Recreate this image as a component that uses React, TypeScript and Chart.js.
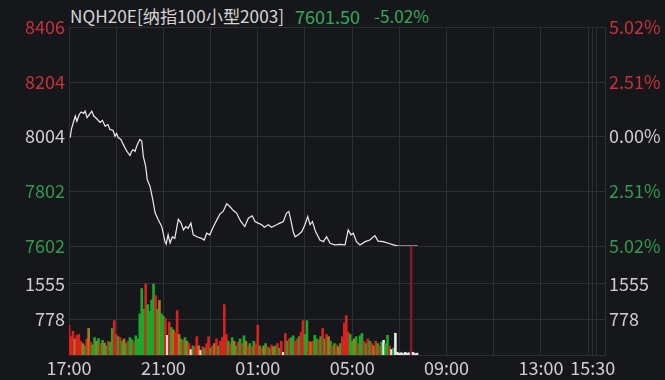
import React, { useEffect, useRef } from 'react';
import { Chart, registerables } from 'chart.js';
Chart.register(...registerables);

// ---- data ----
const titleText = 'NQH20E[纳指100小型2003]';
const lastPrice = '7601.50';
const lastChange = '-5.02%';
const basePrice = 8004;

// minutes since 17:00
const priceTimes = [3,6,12,16,20,26,31,37,41,46,52,58,63,70,79,85,92,99,104,112,117,121,125,132,138,147,155,159,163,168,172,180,185,189,195,199,206,213,219,227,236,244,247,252,257,263,269,278,285,291,297,303,310,316,325,337,344,350,358,367,376,384,392,401,409,418,426,437,447,456,466,473,481,490,497,507,515,528,536,545,553,559,564,570,575,583,592,600,607,613,619,627,638,647,655,664,676,689,702,710,717,723,731,740,753,765,778,786,799,812,825,837,887];
const priceValues = [8000,8030,8060,8079,8060,8085,8094,8089,8097,8073,8085,8097,8079,8070,8056,8063,8042,8048,8030,8026,8005,8015,8000,7993,7975,7950,7934,7949,7956,7949,7968,7993,7987,7931,7894,7845,7821,7772,7724,7698,7673,7618,7609,7643,7613,7636,7630,7700,7686,7661,7673,7667,7686,7643,7636,7630,7624,7649,7643,7673,7698,7720,7729,7757,7747,7732,7723,7692,7673,7704,7713,7692,7686,7680,7671,7680,7671,7680,7686,7692,7723,7729,7698,7655,7636,7643,7655,7680,7710,7680,7692,7655,7624,7618,7636,7612,7606,7608,7606,7661,7643,7649,7618,7606,7618,7624,7640,7620,7618,7612,7606,7602,7601.5];

// volume per 5-minute slot
const volumeValues = [
  650,400,520,350,430,450,300,250,200,350,
  580,280,220,380,300,360,250,320,260,200,
  300,280,580,750,450,400,380,300,350,250,
  300,380,330,280,420,350,900,1450,1000,1550,
  1100,950,1200,1550,1300,1000,1190,900,850,800,
  430,720,600,550,500,970,450,350,320,380,
  300,250,120,200,180,400,200,100,180,150,
  250,400,150,200,250,350,200,300,380,1100,
  450,300,250,380,300,200,280,350,250,420,
  300,200,250,180,300,250,650,200,150,200,
  250,180,150,220,180,200,250,150,300,60,
  470,300,350,380,420,300,350,400,500,750,
  450,750,300,280,300,430,350,330,400,580,
  350,450,400,300,200,250,220,180,250,400,
  700,860,500,450,300,350,400,250,420,470,
  300,250,350,300,250,200,300,250,200,280,
  320,250,430,200,120,150,475,60,40,50,
  30,60,40,50,2380,60,30,40,
];
const volumeColorCodes =
  'rrrorrrogr' + 'orggogrgog' + 'rggrrgrgog' + 'rggrgggggr' + 'ggggrgoggr' +
  'wrgorrogrg' + 'orwgrrowrg' + 'rrgrorgrrr' + 'rgrgogrgrg' + 'orgrgrrgro' +
  'grgrogrgrw' + 'rgrggrrgrr' + 'ggrorggrgr' + 'grogrgrogr' + 'rrrggogrgg' +
  'rgrgrorgrg' + 'wggrwgwwww' + 'wwwwdwww';
const volumeSlotMinutes = 5;

const priceTicks = [7602, 7802, 8004, 8204, 8406];
const pctLabels = ['5.02%', '2.51%', '0.00%', '2.51%', '5.02%'];
const volTicks = [778, 1555];
const timeTicks = [0,120,240,360,480,600,720,840,960,1080,1200,1320,1332,1342];
const timeLabelMap: Record<number, string> = {0:'17:00',240:'21:00',480:'01:00',720:'05:00',960:'09:00',1200:'13:00',1332:'15:30'};
const xMax = 1363;
const volMax = 2380;

// ---- styles ----
const BG = '#16171b';
const GRID = '#2d2f34';
const RED = '#c7323d';
const GREEN = '#2f9a50';
const GRAY = '#cfcfcf';
const FONT = '"Noto Sans CJK SC", "Noto Sans", sans-serif';
const barColors: Record<string, string> = { r: '#d9221e', g: '#1ea82a', o: '#a8781a', w: '#e6e6e6', d: '#7a1c26' };

const priceColor = (v: number) => (v > basePrice ? RED : v < basePrice ? GREEN : GRAY);
const noPad = (s: any) => { s.paddingTop = 0; s.paddingBottom = 0; };

export default function App() {
  const priceRef = useRef<HTMLCanvasElement>(null);
  const volRef = useRef<HTMLCanvasElement>(null);

  useEffect(() => {
    const xTicksFn = (s: any) => { s.ticks = timeTicks.map((v) => ({ value: v })); };
    const pc = new Chart(priceRef.current!, {
      type: 'line',
      data: {
        datasets: [{
          data: priceTimes.map((t, i) => ({ x: t, y: priceValues[i] })),
          borderColor: '#ececec',
          borderWidth: 1.2,
          pointRadius: 0,
          tension: 0,
          yAxisID: 'y',
        }],
      },
      options: {
        animation: false,
        responsive: false,
        maintainAspectRatio: false,
        layout: { padding: { top: 27, bottom: 16, left: 0, right: 0 } },
        plugins: { legend: { display: false }, tooltip: { enabled: false } },
        scales: {
          x: {
            type: 'linear', min: 0, max: xMax,
            afterBuildTicks: xTicksFn,
            ticks: { display: false },
            grid: { color: GRID, drawTicks: false },
            border: { display: false },
            afterFit: (s: any) => { s.height = 0; },
          },
          y: {
            position: 'left', min: 7602, max: 8406,
            afterBuildTicks: (s: any) => { s.ticks = priceTicks.map((v) => ({ value: v })); },
            ticks: {
              color: (ctx: any) => priceColor(ctx.tick.value),
              font: { family: FONT, size: 18 },
              padding: 4,
              callback: (v: any) => String(v),
            },
            grid: { color: GRID, drawTicks: false },
            border: { display: false },
            afterFit: (s: any) => { s.width = 69; noPad(s); },
          },
          y2: {
            position: 'right', min: 7602, max: 8406,
            afterBuildTicks: (s: any) => { s.ticks = priceTicks.map((v) => ({ value: v })); },
            ticks: {
              color: (ctx: any) => priceColor(ctx.tick.value),
              font: { family: FONT, size: 18 },
              padding: 4,
              callback: (_v: any, i: number) => pctLabels[i],
            },
            grid: { display: false, drawTicks: false },
            border: { display: true, color: GRID },
            afterFit: (s: any) => { s.width = 60; noPad(s); },
          },
        },
      },
    } as any);

    const vc = new Chart(volRef.current!, {
      type: 'bar',
      data: {
        datasets: [{
          data: volumeValues.map((v, i) => ({ x: i * volumeSlotMinutes, y: v })),
          backgroundColor: volumeValues.map((_, i) => barColors[volumeColorCodes[i]]),
          barThickness: 2,
          yAxisID: 'yv',
        }],
      },
      options: {
        animation: false,
        responsive: false,
        maintainAspectRatio: false,
        layout: { padding: { top: 6, bottom: 0, left: 0, right: 0 } },
        plugins: { legend: { display: false }, tooltip: { enabled: false } },
        scales: {
          x: {
            type: 'linear', min: 0, max: xMax, offset: false,
            afterBuildTicks: xTicksFn,
            ticks: {
              autoSkip: false, maxRotation: 0,
              color: GRAY,
              font: { family: FONT, size: 18 },
              padding: 2,
              callback: (v: any) => timeLabelMap[v] ?? '',
            },
            grid: { color: GRID, drawTicks: false, offset: false },
            border: { display: true, color: GRID },
            afterFit: (s: any) => { s.height = 25; },
          },
          yv: {
            position: 'left', min: 0, max: volMax,
            afterBuildTicks: (s: any) => { s.ticks = volTicks.map((v) => ({ value: v })); },
            ticks: { color: GRAY, font: { family: FONT, size: 18 }, padding: 4, callback: (v: any) => String(v) },
            grid: { color: GRID, drawTicks: false },
            border: { display: false },
            afterFit: (s: any) => { s.width = 69; noPad(s); },
          },
          yv2: {
            position: 'right', min: 0, max: volMax,
            afterBuildTicks: (s: any) => { s.ticks = volTicks.map((v) => ({ value: v })); },
            ticks: { color: GRAY, font: { family: FONT, size: 18 }, padding: 4, callback: (v: any) => String(v) },
            grid: { display: false, drawTicks: false },
            border: { display: true, color: GRID },
            afterFit: (s: any) => { s.width = 60; noPad(s); },
          },
        },
      },
    } as any);

    return () => { pc.destroy(); vc.destroy(); };
  }, []);

  const textBase: React.CSSProperties = { position: 'absolute', top: 5, fontSize: 18, lineHeight: '22px', whiteSpace: 'pre', fontFamily: FONT };
  return (
    <div style={{ position: 'absolute', left: 0, top: 0, width: 665, height: 380, background: BG, overflow: 'hidden' }}>
      <span style={{ ...textBase, left: 70, fontSize: 17.2, color: '#d6d6d6' }}>{titleText}</span>
      <span style={{ ...textBase, left: 295, color: '#34a85a' }}>{lastPrice}</span>
      <span style={{ ...textBase, left: 374, fontSize: 17.2, color: '#34a85a' }}>{lastChange}</span>
      <canvas ref={priceRef} width={665} height={262} style={{ position: 'absolute', left: 0, top: 0 }} />
      <canvas ref={volRef} width={665} height={140} style={{ position: 'absolute', left: 0, top: 240 }} />
    </div>
  );
}
